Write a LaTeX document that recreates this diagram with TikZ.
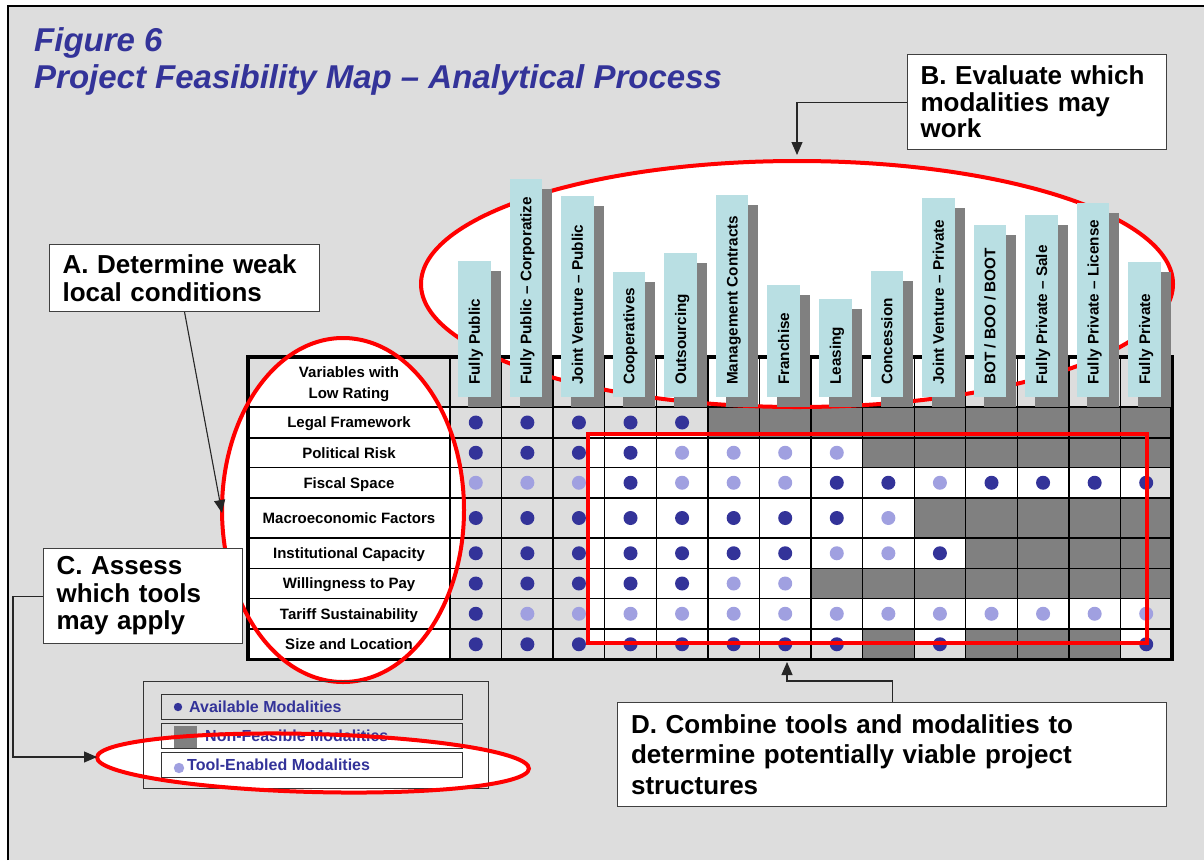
\documentclass[tikz,border=0pt]{standalone}
\usepackage{fontspec}
\setmainfont{Liberation Sans}
\usetikzlibrary{arrows.meta}
\definecolor{bg}{HTML}{DDDDDD}
\definecolor{navy}{HTML}{333399}
\definecolor{lightdot}{HTML}{A0A0E0}
\definecolor{nfgray}{HTML}{808080}
\definecolor{barcyan}{HTML}{B9DFE3}
\begin{document}
\begin{tikzpicture}[x=1pt,y=-1pt,
  conn/.style={line width=1.1pt, draw=black!85, -{Triangle[length=13pt,width=11pt]}},
  callout/.style={draw=black!75, line width=1.1pt, fill=white, anchor=north west, align=left, inner xsep=13pt, inner ysep=0pt},
  lab/.style={inner sep=0pt, anchor=base, font=\fontsize{15}{18}\selectfont\bfseries},
  hdr/.style={inner sep=0pt, anchor=base west, rotate=90, font=\fontsize{15.3}{18}\selectfont\bfseries},
  legtxt/.style={inner sep=0pt, anchor=base west, text=navy, font=\fontsize{16}{19}\selectfont\bfseries},
  titletxt/.style={inner sep=0pt, anchor=base west, text=navy, font=\fontsize{33}{37}\selectfont\bfseries\itshape},
  redline/.style={draw=red, line width=4pt},
  gridl/.style={draw=black, line width=1.3pt},
  legline/.style={draw=black!80, line width=1pt},
]
\useasboundingbox (0,0) rectangle (1204,860);
% background and frame
\fill[white] (0,0) rectangle (1204,860);
\fill[bg] (8,6) rectangle (1204,860);
\draw[line width=2.7pt] (8,860) -- (8,6) -- (1204,6);

% white fills of the highlight shapes
\fill[white] (343,510) ellipse [x radius=121pt, y radius=172pt];
\fill[white] (797,284) ellipse [x radius=376pt, y radius=123pt];
\fill[white, rotate around={-1.5:(313,763)}] (313,763) ellipse [x radius=216pt, y radius=29pt];
\fill[white] (587.7,434) rectangle (1146.7,642.7);

\def\rowb{{407,438,467.5,498,538,568.5,598.5,629,659.5}}
\def\cells{{A,A,A,A,A,X,X,X,X,X,X,X,X,X},{A,A,A,A,T,T,T,T,X,X,X,X,X,X},{T,T,T,A,T,T,T,A,A,T,A,A,A,A},{A,A,A,A,A,A,A,A,T,X,X,X,X,X},{A,A,A,A,A,A,A,T,T,A,X,X,X,X},{A,A,A,A,A,T,T,X,X,X,X,X,X,X},{A,T,T,T,T,T,T,T,T,T,T,T,T,T},{A,A,A,A,A,A,A,A,X,A,X,X,X,A}}

% label cells
\foreach \r in {1,...,8} {
  \pgfmathsetmacro\yt{\rowb[\r-1]}
  \pgfmathsetmacro\yb{\rowb[\r]}
  \fill[white] (248,\yt) rectangle (450,\yb);
}
% non-feasible cells
\foreach [count=\r] \rowcodes in \cells {
  \pgfmathsetmacro\yt{\rowb[\r-1]}
  \pgfmathsetmacro\yb{\rowb[\r]}
  \foreach [count=\c] \v in \rowcodes {
    \pgfmathsetmacro\xl{450+51.571*(\c-1)}
    \if X\v \fill[nfgray] (\xl,\yt) rectangle (\xl+51.571,\yb); \fi
  }
}
% grid
\foreach \y in {407,438,467.5,498,538,568.5,598.5,629} \draw[gridl] (248,\y) -- (1172,\y);
\foreach \c in {0,...,13} \draw[gridl] ({450+51.571*\c},357) -- ({450+51.571*\c},659.5);
\draw[line width=3.5pt] (248,357) rectangle (1172,659.5);

% dots
\foreach [count=\r] \rowcodes in \cells {
  \pgfmathsetmacro\yt{\rowb[\r-1]}
  \pgfmathsetmacro\yb{\rowb[\r]}
  \pgfmathsetmacro\ym{(\yt+\yb)/2}
  \foreach [count=\c] \v in \rowcodes {
    \pgfmathsetmacro\xm{450+51.571*(\c-1)+25.786}
    \if A\v \fill[navy] (\xm,\ym) circle[radius=7pt]; \fi
    \if T\v \fill[lightdot] (\xm,\ym) circle[radius=7pt]; \fi
  }
}
% row labels
\node[lab] (varhead1) at (349,377) {Variables with};
\node[lab] (varhead2) at (349,398) {Low Rating};
\foreach [count=\r] \txt in {Legal Framework, Political Risk, Fiscal Space, Macroeconomic Factors, Institutional Capacity, Willingness to Pay, Tariff Sustainability, Size and Location} {
  \pgfmathsetmacro\yt{\rowb[\r-1]}
  \pgfmathsetmacro\yb{\rowb[\r]}
  \pgfmathsetmacro\ym{(\yt+\yb)/2+5.3}
  \node[lab] (lab\r) at (349,\ym) {\txt};
}

% red outlines A, B, D
\draw[redline] (343,510) ellipse [x radius=121pt, y radius=172pt];
\draw[redline] (797,284) ellipse [x radius=376pt, y radius=123pt];
\draw[redline] (587.7,434) rectangle (1146.7,642.7);

% header bars
\foreach [count=\c] \top/\name in {261/Fully Public, 179/{Fully Public – Corporatize}, 196/{Joint Venture – Public}, 272/Cooperatives, 253/Outsourcing, 195/Management Contracts, 285/Franchise, 299/Leasing, 271/Concession, 198/{Joint Venture – Private}, 225/{BOT / BOO / BOOT}, 215/{Fully Private – Sale}, 203/{Fully Private – License}, 262/Fully Private} {
  \pgfmathsetmacro\L{450+51.571*(\c-1)}
  \fill[nfgray] (\L+18,\top+10) rectangle (\L+50.5,407);
  \fill[barcyan] (\L+8,\top) rectangle (\L+40.5,397);
  \node[hdr] (hd\c) at (\L+29.75,385) {\name};
}

% title
\node[titletxt] (title1) at (34,51) {Figure 6};
\node[titletxt] (title2) at (34,88) {Project Feasibility Map – Analytical Process};

% legend
\draw[legline] (143,681) rectangle (488,788);
\foreach \yy in {694,723,752} \draw[legline] (161,\yy) rectangle (462,\yy+25);
\fill[navy] (178,707) circle[radius=4.2pt];
\fill[nfgray] (174,726) rectangle (197,748);
\fill[lightdot] (179,768) circle[radius=5.2pt];
\node[legtxt] (legA) at (189,712.5) {Available Modalities};
\node[legtxt] (legN) at (205,741.5) {Non-Feasible Modalities};
\node[legtxt] (legT) at (187,770.5) {Tool-Enabled Modalities};
\draw[redline, rotate around={-1.5:(313,763)}] (313,763) ellipse [x radius=216pt, y radius=29pt];

% callouts
\node[callout, minimum width=270pt, minimum height=67pt, text width=244pt, font=\fontsize{26}{28}\selectfont\bfseries] (boxA) at (49,244) {A. Determine weak\\local conditions};
\node[callout, minimum width=259pt, minimum height=95pt, text width=233pt, font=\fontsize{26}{26.5}\selectfont\bfseries] (boxB) at (907,54) {B. Evaluate which\\modalities may\\work};
\node[callout, minimum width=199pt, minimum height=95pt, text width=173pt, font=\fontsize{26}{27.5}\selectfont\bfseries] (boxC) at (43,548) {C. Assess\\which tools\\may apply};
\node[callout, minimum width=549pt, minimum height=104pt, text width=522pt, font=\fontsize{26}{30.6}\selectfont\bfseries] (boxD) at (617,702) {D. Combine tools and modalities to\\determine potentially viable project\\structures};

\coordinate (tipA) at (222,513);
\coordinate (tipB) at (797,155);
\coordinate (tipC) at (97,757);
\coordinate (tipD) at (787,662);
\draw[conn] (boxA.south) -- (tipA);
\draw[conn] (boxB.west) -| (tipB);
\draw[conn] (boxC.west) -- ++(-30,0) |- (tipC);
\draw[conn] (boxD.north) -- ++(0,-21) -| (tipD);
\end{tikzpicture}
\end{document}
